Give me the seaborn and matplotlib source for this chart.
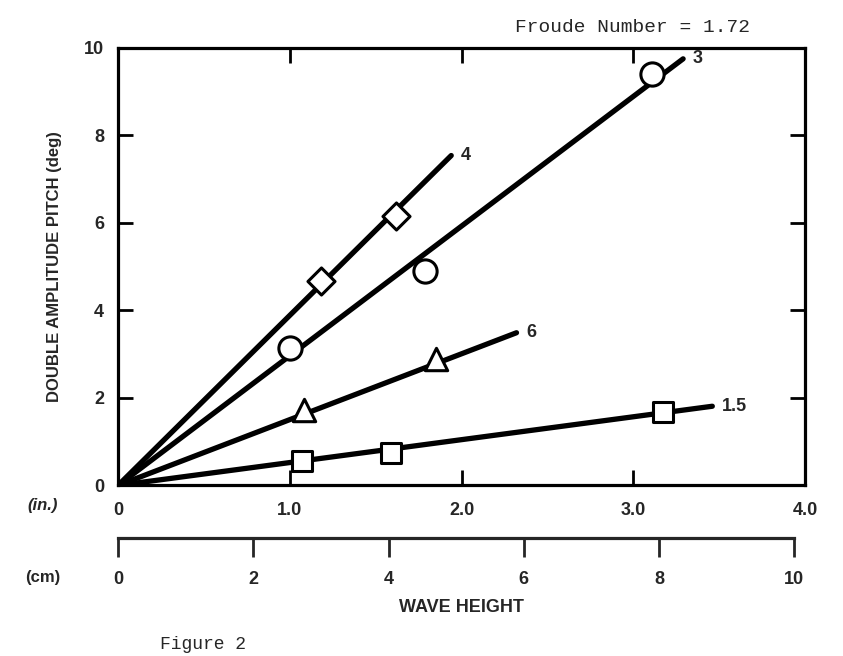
import matplotlib
matplotlib.use('Agg')
import pandas as pd
import matplotlib.pyplot as plt
import seaborn as sns

# %%
# values: wave height (in.) vs pitch (deg)
series_names = ['4', '3', '6', '1.5']

height_4 = [1.18, 1.62]
pitch_4 = [4.67, 6.16]

height_3 = [1.00, 1.79, 3.11]
pitch_3 = [3.15, 4.89, 9.40]

height_6 = [1.08, 1.85]
pitch_6 = [1.72, 2.90]

height_15 = [1.07, 1.59, 3.17]
pitch_15 = [0.55, 0.73, 1.68]

# faired lines all start at the origin, these are where they stop
line_end_height = [1.94, 3.29, 2.32, 3.46]
line_end_pitch = [7.54, 9.75, 3.49, 1.81]

inch_ticks = [0, 1, 2, 3, 4]
inch_labels = ['0', '1.0', '2.0', '3.0', '4.0']
cm_ticks = [0, 2, 4, 6, 8, 10]
pitch_ticks = [0, 2, 4, 6, 8, 10]

# %%
points = pd.DataFrame({
    'height': height_4 + height_3 + height_6 + height_15,
    'pitch': pitch_4 + pitch_3 + pitch_6 + pitch_15,
    'series': ['4'] * len(height_4) + ['3'] * len(height_3)
              + ['6'] * len(height_6) + ['1.5'] * len(height_15),
})

lines = pd.DataFrame({
    'height': [v for end in line_end_height for v in (0, end)],
    'pitch': [v for end in line_end_pitch for v in (0, end)],
    'series': [s for s in series_names for _ in range(2)],
})

# %%
sns.set_theme(style='ticks')
plt.rcParams['font.family'] = ['Liberation Sans', 'DejaVu Sans']
plt.rcParams['font.weight'] = 'bold'

fig = plt.figure(figsize=(8.43, 6.56), dpi=100)
ax = fig.add_axes([0.14, 0.26, 0.815, 0.667])

black = {s: 'black' for s in series_names}
sns.lineplot(data=lines, x='height', y='pitch', hue='series', palette=black,
             units='series', estimator=None, sort=False, lw=3.8,
             legend=False, ax=ax, solid_capstyle='round')

marker_style = {'4': ('D', 190), '3': ('o', 280), '6': ('^', 260), '1.5': ('s', 220)}
for name in series_names:
    sub = points[points['series'] == name]
    m, s = marker_style[name]
    sns.scatterplot(data=sub, x='height', y='pitch', marker=m, s=s,
                    color='white', edgecolor='black', linewidth=2.2,
                    zorder=5, ax=ax, legend=False)

# curve labels at the line ends
for name, xe, ye in zip(series_names, line_end_height, line_end_pitch):
    ax.annotate(name, (xe, ye), xytext=(7, 0), textcoords='offset points',
                ha='left', va='center', fontsize=13, fontweight='bold')

ax.set_xlim(0, 4)
ax.set_ylim(0, 10)
ax.set_xticks(inch_ticks)
ax.set_xticklabels(inch_labels)
ax.set_yticks(pitch_ticks)
ax.tick_params(axis='both', which='major', direction='in', length=11, width=2,
               labelsize=13, top=True, right=True, color='black')
ax.tick_params(axis='x', pad=12)
ax.tick_params(axis='y', pad=10)
for sp in ax.spines.values():
    sp.set_visible(True)
    sp.set_linewidth(2.3)
    sp.set_color('black')

ax.set_xlabel('')
ax.set_ylabel('DOUBLE AMPLITUDE PITCH (deg)', fontsize=12, fontweight='bold',
              labelpad=16)

# second scale in centimetres under the inch scale
secax = ax.secondary_xaxis(-0.12, functions=(lambda x: x * 2.54, lambda x: x / 2.54))
secax.set_xticks(cm_ticks)
secax.tick_params(direction='out', length=14, width=2, labelsize=13, pad=10)
secax.spines['bottom'].set_linewidth(2.3)
secax.spines['bottom'].set_bounds(0, 10)
secax.set_xlabel('WAVE HEIGHT', fontsize=13, fontweight='bold', labelpad=8)

ax.text(-0.11, -0.045, '(in.)', transform=ax.transAxes, fontsize=12,
        fontweight='bold', style='italic', ha='center', va='center')
ax.text(-0.11, -0.21, '(cm)', transform=ax.transAxes, fontsize=12,
        fontweight='bold', ha='center', va='center')

fig.text(0.75, 0.958, 'Froude Number = 1.72', family='Liberation Mono',
         fontsize=14, fontweight='normal', ha='center', va='center')
fig.text(0.19, 0.018, 'Figure 2', family='Liberation Mono', fontsize=13,
         fontweight='normal', ha='left', va='center')

fig.savefig('out.png', dpi=100)
